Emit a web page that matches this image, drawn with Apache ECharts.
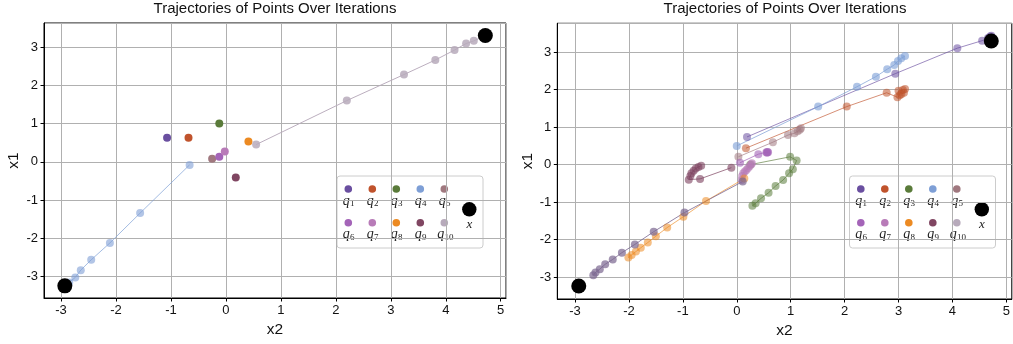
<!DOCTYPE html>
<html>
<head>
<meta charset="utf-8">
<script src="https://cdn.jsdelivr.net/npm/echarts@6/dist/echarts.min.js"></script>
<style>
  html, body { margin: 0; padding: 0; background: #fff; }
  #main { width: 1013px; height: 344px; }
</style>
</head>
<body>
<div id="main"></div>
<script>
// legend colours q1..q10
const qNames = ['1', '2', '3', '4', '5', '6', '7', '8', '9', '10'];
const qColors = ['#6a4fa0', '#c0532c', '#5a7b3a', '#7e9fd6', '#a0787f',
                 '#a464b8', '#b87bb8', '#ec8a22', '#804662', '#b7aabb'];

// target points x (black)
const targets = [[-2.93, -3.24], [4.72, 3.30]];

// left panel: q1..q10 (x2, x1)
const leftQ1 = [[-1.07, 0.63]];
const leftQ2 = [[-0.68, 0.63]];
const leftQ3 = [[-0.12, 1.00]];
const leftQ4 = [[-0.66, -0.08], [-1.56, -1.34], [-2.11, -2.12], [-2.45, -2.56],
                [-2.64, -2.83], [-2.74, -3.02], [-2.85, -3.15], [-2.91, -3.22]];
const leftQ5 = [[-0.25, 0.08]];
const leftQ6 = [[-0.12, 0.13]];
const leftQ7 = [[-0.02, 0.27]];
const leftQ8 = [[0.41, 0.53]];
const leftQ9 = [[0.18, -0.41]];
const leftQ10 = [[0.55, 0.45], [2.20, 1.60], [3.24, 2.28], [3.81, 2.66],
                 [4.16, 2.92], [4.37, 3.09], [4.51, 3.16], [4.68, 3.27]];

// right panel
const rightQ1 = [[0.19, 0.74], [2.94, 2.43], [4.09, 3.11], [4.55, 3.31],
                 [4.66, 3.38], [4.70, 3.42], [4.72, 3.44]];
const rightQ2 = [[0.17, 0.44], [2.04, 1.55], [2.78, 1.92], [2.98, 1.80], [3.02, 1.85],
                 [3.00, 1.97], [3.08, 1.99], [3.12, 2.02], [3.10, 1.92], [3.05, 1.88]];
const rightQ3 = [[0.25, 0.00], [0.99, 0.21], [1.11, 0.11], [1.04, -0.12], [0.97, -0.23],
                 [0.86, -0.41], [0.72, -0.57], [0.59, -0.75], [0.45, -0.90],
                 [0.35, -1.03], [0.29, -1.10]];
const rightQ4 = [[0.00, 0.50], [1.51, 1.55], [2.23, 2.08], [2.58, 2.35], [2.79, 2.55],
                 [2.92, 2.66], [2.99, 2.77], [3.05, 2.84], [3.12, 2.90]];
const rightQ5 = [[0.03, 0.21], [0.67, 0.60], [0.95, 0.79], [1.07, 0.84],
                 [1.13, 0.89], [1.17, 0.93], [1.19, 0.97]];
const rightQ6 = [[0.06, 0.05], [0.40, 0.28], [0.55, 0.33], [0.57, 0.34],
                 [0.56, 0.32], [0.58, 0.33]];
const rightQ7 = [[0.09, -0.41], [0.10, -0.30], [0.12, -0.23], [0.15, -0.18],
                 [0.18, -0.14], [0.21, -0.09], [0.24, -0.04], [0.27, 0.01], [0.28, 0.04]];
const rightQ8 = [[0.14, -0.37], [-0.57, -0.97], [-0.99, -1.39], [-1.29, -1.68],
                 [-1.50, -1.91], [-1.65, -2.08], [-1.78, -2.22], [-1.87, -2.32],
                 [-1.95, -2.41], [-2.01, -2.48]];
const rightQ9 = [[-0.10, -0.08], [-0.68, -0.38], [-0.89, -0.40], [-0.86, -0.30],
                 [-0.84, -0.23], [-0.80, -0.16], [-0.76, -0.10], [-0.71, -0.06], [-0.66, -0.03]];
const rightQ10 = [[0.11, -0.45], [-0.97, -1.28], [-1.54, -1.79], [-1.89, -2.13],
                  [-2.13, -2.35], [-2.30, -2.53], [-2.44, -2.66], [-2.54, -2.79],
                  [-2.62, -2.88], [-2.66, -2.95]];

const leftData = [leftQ1, leftQ2, leftQ3, leftQ4, leftQ5, leftQ6, leftQ7, leftQ8, leftQ9, leftQ10];
const rightData = [rightQ1, rightQ2, rightQ3, rightQ4, rightQ5, rightQ6, rightQ7, rightQ8, rightQ9, rightQ10];
// how the trajectories look in the right panel (colour, alpha)
const rightColors = ['#6a4fa0', '#c0532c', '#5a7b3a', '#7e9fd6', '#a0787f',
                     '#a464b8', '#b87bb8', '#ec8a22', '#804662', '#7b6690'];
const rightAlpha = [0.55, 0.55, 0.55, 0.62, 0.55, 0.6, 0.6, 0.55, 0.62, 0.7];

const title = 'Trajectories of Points Over Iterations';
const font = 'Liberation Sans, Arial, sans-serif';

var chart = echarts.init(document.getElementById('main'), null, { renderer: 'canvas' });

function xAxisOf(gi, min, max, gap) {
  return {
    type: 'value', gridIndex: gi, min: min, max: max,
    minInterval: 1, maxInterval: 1, splitNumber: 8,
    name: 'x2', nameLocation: 'middle', nameGap: gap,
    nameTextStyle: { fontFamily: font, fontSize: 15.5, color: '#111' },
    axisLine: { show: true, onZero: false, lineStyle: { color: '#000' } },
    axisTick: { show: true, length: 3.5, lineStyle: { color: '#000' } },
    axisLabel: { showMinLabel: false, showMaxLabel: false, margin: 6,
                 fontFamily: font, fontSize: 13, color: '#111' },
    splitLine: { show: true, lineStyle: { color: '#b0b0b0', width: 1 } }
  };
}
function yAxisOf(gi, min, max, gap) {
  return {
    type: 'value', gridIndex: gi, min: min, max: max,
    minInterval: 1, maxInterval: 1, splitNumber: 7,
    name: 'x1', nameLocation: 'middle', nameGap: gap,
    nameTextStyle: { fontFamily: font, fontSize: 15.5, color: '#111' },
    axisLine: { show: true, onZero: false, lineStyle: { color: '#000' } },
    axisTick: { show: true, length: 3.5, lineStyle: { color: '#000' } },
    axisLabel: { showMinLabel: false, showMaxLabel: false, margin: 6,
                 fontFamily: font, fontSize: 13, color: '#111' },
    splitLine: { show: true, lineStyle: { color: '#b0b0b0', width: 1 } }
  };
}

function traj(gi, data, color, alpha, size) {
  return {
    type: 'line', xAxisIndex: gi, yAxisIndex: gi, data: data,
    symbol: 'circle', symbolSize: size, showSymbol: true, showAllSymbol: true,
    silent: true, clip: false, animation: false,
    lineStyle: { color: color, width: 1, opacity: Math.min(1, alpha + 0.1) },
    itemStyle: { color: color, opacity: alpha, borderWidth: 0 }
  };
}

var series = [];
leftData.forEach(function (d, i) {
  var moving = d.length > 1;
  series.push(traj(0, d, qColors[i], moving ? (i === 9 ? 0.85 : 0.6) : 1, 8));
});
rightData.forEach(function (d, i) {
  series.push(traj(1, d, rightColors[i], rightAlpha[i], 8));
});
[0, 1].forEach(function (gi) {
  series.push({
    type: 'scatter', xAxisIndex: gi, yAxisIndex: gi, data: targets,
    symbol: 'circle', symbolSize: 15, silent: true, z: 5, animation: false,
    itemStyle: { color: '#000', opacity: 1 }
  });
});

// legend drawn as graphic so that labels sit below the markers
function legendGroup(ox) {
  var els = [{
    type: 'rect', shape: { x: 337 + ox, y: 176, width: 146, height: 72, r: 3 },
    style: { fill: 'rgba(255,255,255,0.85)', stroke: '#cccccc', lineWidth: 1 }
  }];
  qNames.forEach(function (n, i) {
    var cx = 348.3 + ox + (i % 5) * 24;
    var cy = i < 5 ? 189 : 222.7;
    els.push({ type: 'circle', shape: { cx: cx, cy: cy, r: 3.8 }, style: { fill: qColors[i] } });
    var shift = n.length > 1 ? 3.5 : 2;
    els.push({ type: 'text', x: cx - shift, y: cy + 12,
      style: { text: 'q', font: 'italic 14px Liberation Serif, serif', fill: '#222',
               textAlign: 'center', textVerticalAlign: 'middle' } });
    els.push({ type: 'text', x: cx - shift + 3.8, y: cy + 15,
      style: { text: n, font: '9px Liberation Serif, serif', fill: '#222',
               textAlign: 'left', textVerticalAlign: 'middle' } });
  });
  els.push({ type: 'circle', shape: { cx: 469.3 + ox, cy: 209.3, r: 7.2 }, style: { fill: '#000' } });
  els.push({ type: 'text', x: 469.3 + ox, y: 225,
    style: { text: 'x', font: 'italic 13px Liberation Serif, serif', fill: '#222',
             textAlign: 'center', textVerticalAlign: 'middle' } });
  return { type: 'group', z: 100, children: els };
}

var option = {
  backgroundColor: '#fff',
  animation: false,
  grid: [
    { left: 44, top: 23, width: 462, height: 275, show: true,
      borderColor: '#000', borderWidth: 1, backgroundColor: 'transparent' },
    { left: 557.3, top: 23.3, width: 455, height: 275.7, show: true,
      borderColor: '#000', borderWidth: 1, backgroundColor: 'transparent' }
  ],
  xAxis: [xAxisOf(0, -3.309, 5.096, 24), xAxisOf(1, -3.328, 5.10, 21)],
  yAxis: [yAxisOf(0, -3.558, 3.627, 22), yAxisOf(1, -3.587, 3.774, 21.5)],
  series: series,
  graphic: [
    { type: 'text', x: 275, y: 8.5, z: 100,
      style: { text: title, font: '15px ' + font, fill: '#111',
               textAlign: 'center', textVerticalAlign: 'middle' } },
    { type: 'text', x: 785, y: 8.5, z: 100,
      style: { text: title, font: '15px ' + font, fill: '#111',
               textAlign: 'center', textVerticalAlign: 'middle' } },
    legendGroup(0),
    legendGroup(512.5)
  ]
};

chart.setOption(option);
window.addEventListener('resize', function () {
  chart.resize();
});
</script>
</body>
</html>
